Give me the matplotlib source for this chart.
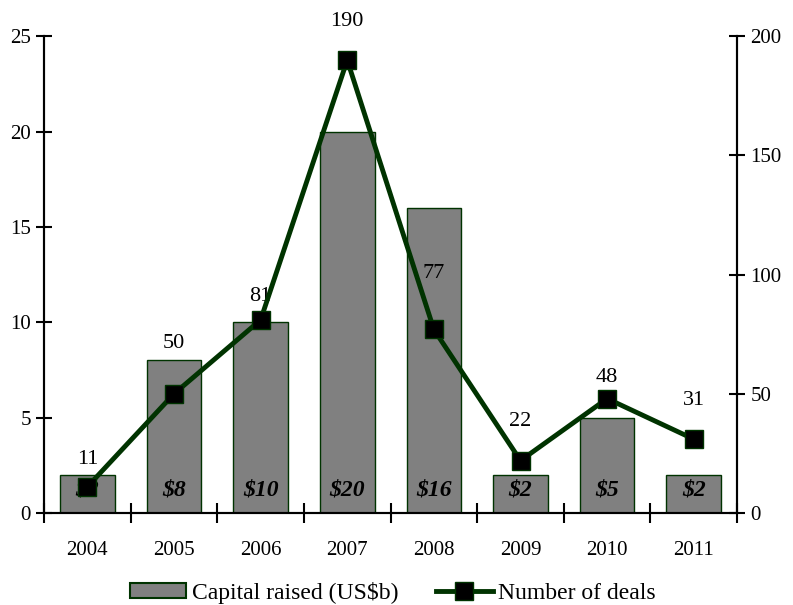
import matplotlib.pyplot as plt
import numpy as np
from matplotlib.lines import Line2D
from matplotlib.patches import Patch

plt.rcParams['font.family'] = ['Liberation Serif', 'DejaVu Serif']

years = ["2004", "2005", "2006", "2007", "2008", "2009", "2010", "2011"]
capital = [2, 8, 10, 20, 16, 2, 5, 2]
deals = [11, 50, 81, 190, 77, 22, 48, 31]
# label offsets above markers (points)
deal_label_dy = [20, 36, 17, 28, 40, 28, 15, 28]

green = "#003300"
x = np.arange(len(years))

fig = plt.figure(figsize=(7.93, 6.05), dpi=100)
ax = fig.add_axes([0.0555, 0.152, 0.874, 0.788])
ax2 = ax.twinx()

ax.bar(x, capital, width=0.63, color="#808080", edgecolor=green, linewidth=1, zorder=2)
for i, v in enumerate(capital):
    ax.text(x[i], 1.2, "$%d" % v, ha="center", va="center", fontsize=17,
            fontweight="bold", style="italic", zorder=5)

ax2.plot(x, deals, color=green, linewidth=3.5, marker="s", markersize=13,
         markerfacecolor="black", markeredgecolor=green, markeredgewidth=1, zorder=4)
for i, v in enumerate(deals):
    ax2.annotate(str(v), (x[i], v), xytext=(0, deal_label_dy[i]), textcoords="offset points",
                 ha="center", va="center", fontsize=16, annotation_clip=False)

ax.set_xlim(-0.5, len(years) - 0.5)
ax.set_ylim(0, 25)
ax.set_yticks(range(0, 26, 5))
ax2.set_ylim(0, 200)
ax2.set_yticks(range(0, 201, 50))
ax.set_zorder(ax2.get_zorder() - 1)
ax.patch.set_visible(False)

ax.set_xticks(np.arange(-0.5, len(years), 1))
ax.set_xticklabels([])
ax.set_xticks(x, minor=True)
ax.set_xticklabels(years, minor=True)
ax.tick_params(axis="x", which="major", direction="inout", length=14, width=1.5)
ax.tick_params(axis="x", which="minor", length=0, labelsize=15, pad=20)
ax.tick_params(axis="y", direction="inout", length=12, width=1.5, labelsize=15)
ax2.tick_params(axis="y", direction="inout", length=12, width=1.5, labelsize=15)

for a in (ax, ax2):
    a.spines["top"].set_visible(False)
    for s in ("left", "right", "bottom"):
        a.spines[s].set_linewidth(1.5)

handles = [Patch(facecolor="#808080", edgecolor=green, linewidth=1.5, label="Capital raised (US$b)"),
           Line2D([0], [0], color=green, linewidth=3.5, marker="s", markersize=13,
                  markerfacecolor="black", markeredgecolor=green, label="Number of deals")]
fig.legend(handles=handles, loc="center", bbox_to_anchor=(0.495, 0.02), ncol=2,
           frameon=False, fontsize=17, handlelength=2.4, handleheight=0.55,
           columnspacing=1.6, handletextpad=0.22)

fig.savefig("out.png", dpi=100)
